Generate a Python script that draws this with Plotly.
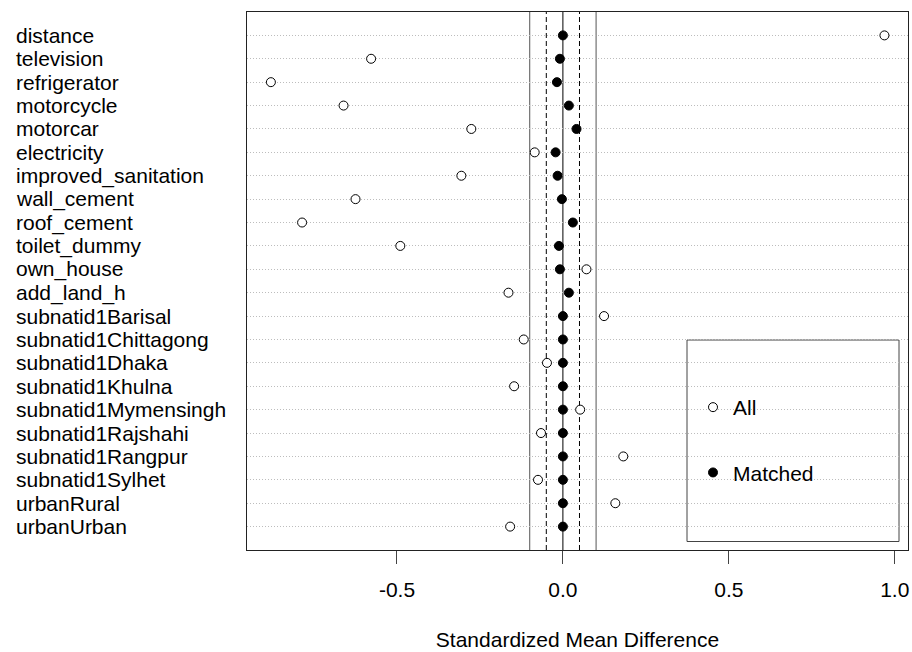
import plotly.graph_objects as go

variables = ["distance", "television", "refrigerator", "motorcycle", "motorcar",
             "electricity", "improved_sanitation", "wall_cement", "roof_cement",
             "toilet_dummy", "own_house", "add_land_h", "subnatid1Barisal",
             "subnatid1Chittagong", "subnatid1Dhaka", "subnatid1Khulna",
             "subnatid1Mymensingh", "subnatid1Rajshahi", "subnatid1Rangpur",
             "subnatid1Sylhet", "urbanRural", "urbanUrban"]
smd_all = [0.969, -0.578, -0.880, -0.661, -0.276,
           -0.085, -0.306, -0.625, -0.786,
           -0.490, 0.071, -0.164, 0.124,
           -0.118, -0.048, -0.147,
           0.052, -0.066, 0.182,
           -0.075, 0.158, -0.159]
smd_matched = [0.000, -0.009, -0.018, 0.018, 0.041,
               -0.022, -0.016, -0.003, 0.030,
               -0.012, -0.009, 0.018, 0.000,
               0.000, 0.000, 0.000,
               0.000, 0.000, 0.000,
               0.000, 0.000, 0.000]
x_ticks = [-0.5, 0.0, 0.5, 1.0]
x_tick_labels = ["-0.5", "0.0", "0.5", "1.0"]
thresholds = [0.1, 0.05]

n = len(variables)
ypos = [n - i for i in range(n)]

FONT = "Liberation Sans, Arial, sans-serif"
FS = 21

fig = go.Figure()
fig.add_trace(go.Scatter(
    x=smd_all, y=ypos, mode="markers", name="All", legendgroup="a",
    marker=dict(symbol="circle", size=9, color="white",
                line=dict(color="black", width=1)),
))
fig.add_trace(go.Scatter(
    x=smd_matched, y=ypos, mode="markers", name="Matched", legendgroup="b",
    marker=dict(symbol="circle", size=9, color="black",
                line=dict(color="black", width=1)),
))

shapes = []
# legend box
shapes.append(dict(type="rect", xref="paper", yref="paper",
                   x0=(687 - 247) / 661, x1=(899 - 247) / 661,
                   y0=(550 - 541.5) / 538, y1=(550 - 340) / 538,
                   line=dict(color="#444444", width=1), fillcolor="white",
                   layer="between"))
# reference lines
for t in thresholds[:1]:
    for s in (-1, 1):
        shapes.append(dict(type="line", xref="x", yref="paper", x0=s * t, x1=s * t,
                           y0=0, y1=1, line=dict(color="#555555", width=1),
                           layer="between"))
for t in thresholds[1:]:
    for s in (-1, 1):
        shapes.append(dict(type="line", xref="x", yref="paper", x0=s * t, x1=s * t,
                           y0=0, y1=1, line=dict(color="black", width=1, dash="5px,3px"),
                           layer="between"))
shapes.append(dict(type="line", xref="x", yref="paper", x0=0, x1=0, y0=0, y1=1,
                   line=dict(color="black", width=1), layer="between"))

annotations = []
for v, y in zip(variables, ypos):
    annotations.append(dict(text=v, x=(14 - 247) / 661, xref="paper", y=y, yref="y",
                            xanchor="left", yanchor="middle", showarrow=False,
                            font=dict(family=FONT, size=FS, color="black")))

fig.update_layout(
    width=912, height=652,
    margin=dict(l=247, r=4, t=12, b=102, pad=0),
    paper_bgcolor="white", plot_bgcolor="white",
    font=dict(family=FONT, size=FS, color="black"),
    shapes=shapes, annotations=annotations,
    showlegend=True,
    legend=dict(x=(693 - 247) / 661, y=(550 - 387) / 538, xanchor="left", yanchor="top",
                bgcolor="rgba(0,0,0,0)", borderwidth=0, tracegroupgap=35,
                traceorder="grouped", font=dict(family=FONT, size=FS, color="black")),
    xaxis=dict(range=[-0.952, 1.040], tickvals=x_ticks, ticktext=x_tick_labels,
               ticks="outside", ticklen=13, tickcolor="#444444", tickwidth=1,
               ticklabelstandoff=8,
               showgrid=False, zeroline=False, showline=True, mirror=True,
               linecolor="#222222", linewidth=1,
               title=dict(text="Standardized Mean Difference", standoff=32,
                          font=dict(family=FONT, size=FS, color="black"))),
    yaxis=dict(range=[0, n + 1], tickvals=ypos, showticklabels=False, ticks="",
               showgrid=True, gridcolor="#bdbdbd", griddash="1px,2px", gridwidth=1,
               zeroline=False, showline=True, mirror=True,
               linecolor="#222222", linewidth=1),
)

fig.write_html("out.html")
